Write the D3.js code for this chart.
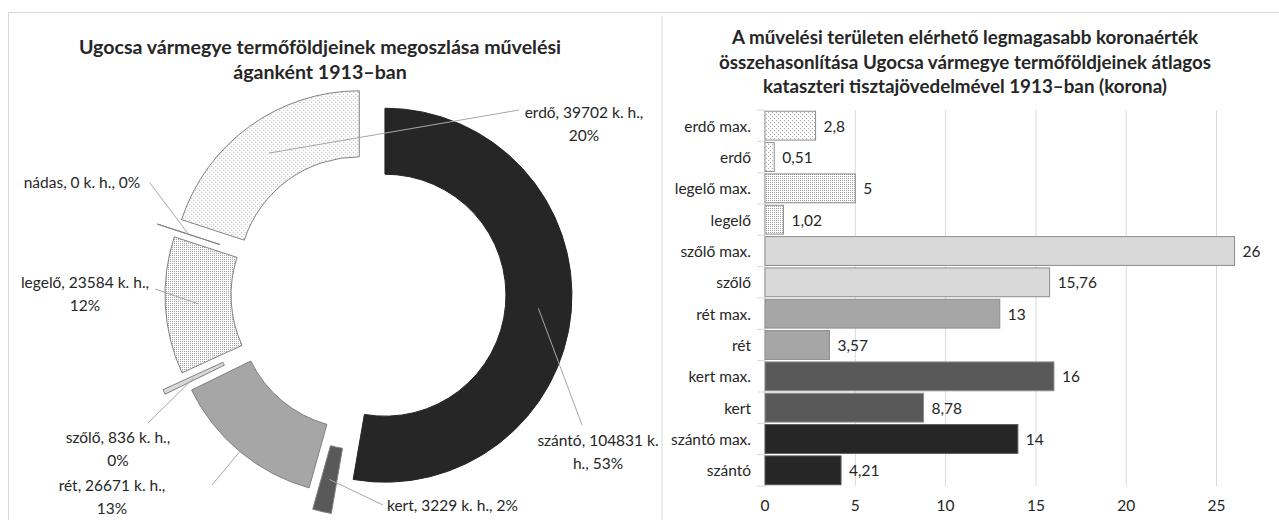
<!DOCTYPE html>
<html>
<head>
<meta charset="utf-8">
<script src="https://cdn.jsdelivr.net/npm/d3@7"></script>
<style>
  body { margin: 0; background: #fff; }
  svg text { font-family: Lato, "Open Sans", sans-serif; fill: #262626; }
</style>
</head>
<body>
<div id="chart"></div>
<script>
// Bal oldali fánk: művelési ágak (katasztrális hold)
const landNames = ["szántó", "kert", "rét", "szőlő", "legelő", "nádas", "erdő"];
const landArea = [104831, 3229, 26671, 836, 23584, 0, 39702];

// Jobb oldali sávok (korona)
const barLabels = ["erdő max.", "erdő", "legelő max.", "legelő", "szőlő max.", "szőlő",
                   "rét max.", "rét", "kert max.", "kert", "szántó max.", "szántó"];
const barValues = [2.8, 0.51, 5, 1.02, 26, 15.76, 13, 3.57, 16, 8.78, 14, 4.21];
const xTicks = [0, 5, 10, 15, 20, 25];

const W = 1279, H = 520;
const svg = d3.select("#chart").append("svg")
    .attr("width", W).attr("height", H);

// mintázatok (pontozott kitöltés)
const defs = svg.append("defs");
function dotPattern(id, size, dots, color) {
    const p = defs.append("pattern")
        .attr("id", id).attr("patternUnits", "userSpaceOnUse")
        .attr("width", size).attr("height", size);
    p.append("rect").attr("width", size).attr("height", size).attr("fill", "#fff");
    dots.forEach(([x, y]) => p.append("rect").attr("x", x).attr("y", y)
        .attr("width", 1).attr("height", 1).attr("fill", color));
}
dotPattern("dotsSparse", 4, [[0, 0], [2, 2]], "#a8a8a8");
dotPattern("dotsDense", 2, [[0, 0]], "#9a9a9a");

const fills = {
    "szántó": "#262626", "kert": "#595959", "rét": "#a6a6a6", "szőlő": "#d9d9d9",
    "legelő": "url(#dotsDense)", "nádas": "#ffffff", "erdő": "url(#dotsSparse)"
};

// keretek
svg.append("line").attr("x1", 8).attr("x2", W).attr("y1", 12.5).attr("y2", 12.5)
    .attr("stroke", "#d9d9d9");
svg.append("line").attr("x1", 8.5).attr("x2", 8.5).attr("y1", 12).attr("y2", H)
    .attr("stroke", "#d9d9d9");
svg.append("line").attr("x1", 662).attr("x2", 662).attr("y1", 16).attr("y2", H)
    .attr("stroke", "#d9d9d9");

// ---------- Fánk diagram ----------
const cx = 371, cy = 294, rIn = 121, rOut = 187;
const explode = [14, 36, 18, 42, 19, 38, 20];

svg.append("text").attr("x", 320).attr("y", 54)
    .attr("text-anchor", "middle").style("font-size", "19.6px").style("font-weight", "bold")
    .selectAll("tspan").data(["Ugocsa vármegye termőföldjeinek megoszlása művelési", "áganként 1913–ban"])
    .enter().append("tspan").attr("x", 320).attr("dy", (d, i) => i ? 25 : 0).text(d => d);

const total = d3.sum(landArea);
const pie = d3.pie().sort(null).value(d => d.value);
const arcs = pie(landNames.map((n, i) => ({ name: n, value: landArea[i], i })));
const arc = d3.arc().innerRadius(rIn).outerRadius(rOut);
const midArc = d3.arc().innerRadius((rIn + rOut) / 2).outerRadius((rIn + rOut) / 2);

function offset(d) {
    const a = (d.startAngle + d.endAngle) / 2;
    const e = explode[d.data.i];
    return [cx + e * Math.sin(a), cy - e * Math.cos(a)];
}

const donut = svg.append("g");
donut.selectAll("path").data(arcs).enter().append("path")
    .attr("transform", d => `translate(${offset(d)})`)
    .attr("d", arc)
    .attr("fill", d => fills[d.data.name])
    .attr("stroke", d => d.data.name === "szántó" ? "#262626" : "#808080")
    .attr("stroke-width", 1);

// címkék
const labelLayout = {
    "erdő":   { x: 584, y: 118, anchor: "middle", lx: 519, ly: 110, split: true },
    "nádas":  { x: 82, y: 188, anchor: "middle", lx: 150, ly: 183, split: false },
    "legelő": { x: 85, y: 288, anchor: "middle", lx: 155, ly: 289, split: true },
    "szőlő":  { x: 118, y: 443, anchor: "middle", lx: 148, ly: 423, split: true },
    "rét":    { x: 112, y: 491, anchor: "middle", lx: 212, ly: 485, split: true },
    "kert":   { x: 387, y: 511, anchor: "start", lx: 383, ly: 505, split: false },
    "szántó": { x: 598, y: 446, anchor: "middle", lx: 582, ly: 425, split: "szantó" }
};
const pctFmt = v => Math.round(v / total * 100) + "%";

arcs.forEach(d => {
    const L = labelLayout[d.data.name];
    const [ox, oy] = offset(d);
    const [mx, my] = midArc.centroid(d);
    svg.append("line")
        .attr("x1", ox + mx).attr("y1", oy + my)
        .attr("x2", L.lx).attr("y2", L.ly)
        .attr("stroke", "#a6a6a6").attr("stroke-width", 1);
    const full = `${d.data.name}, ${d.data.value} k. h., ${pctFmt(d.data.value)}`;
    let lines;
    if (L.split === "szantó") lines = [`${d.data.name}, ${d.data.value} k.`, `h., ${pctFmt(d.data.value)}`];
    else if (L.split) lines = [`${d.data.name}, ${d.data.value} k. h.,`, pctFmt(d.data.value)];
    else lines = [full];
    const t = svg.append("text").attr("text-anchor", L.anchor).style("font-size", "15.5px");
    lines.forEach((s, i) => t.append("tspan").attr("x", L.x).attr("y", L.y + i * 23).text(s));
});

// ---------- Sávdiagram ----------
svg.append("text").attr("x", 965).attr("y", 44)
    .attr("text-anchor", "middle").style("font-size", "18.8px").style("font-weight", "bold")
    .selectAll("tspan").data(["A művelési területen elérhető legmagasabb koronaérték",
        "összehasonlítása Ugocsa vármegye termőföldjeinek átlagos",
        "kataszteri tisztajövedelmével 1913–ban (korona)"])
    .enter().append("tspan").attr("x", 965).attr("dy", (d, i) => i ? 24.5 : 0).text(d => d);

const x = d3.scaleLinear().domain([0, 30]).range([765, 1306.8]);
const y = d3.scaleBand().domain(barLabels).range([110, 486]).paddingInner(0.08).paddingOuter(0.04);

const barFills = ["url(#dotsSparse)", "url(#dotsSparse)", "url(#dotsDense)", "url(#dotsDense)",
    "#d9d9d9", "#d9d9d9", "#a6a6a6", "#a6a6a6", "#595959", "#595959", "#262626", "#262626"];

// rácsvonalak
svg.append("g").selectAll("line").data(xTicks.slice(1)).enter().append("line")
    .attr("x1", d => x(d)).attr("x2", d => x(d)).attr("y1", 110).attr("y2", 486)
    .attr("stroke", "#d9d9d9");

// függőleges tengely + osztások
const yAxis = svg.append("g");
yAxis.append("line").attr("x1", 765).attr("x2", 765).attr("y1", 110).attr("y2", 486)
    .attr("stroke", "#d9d9d9");
yAxis.selectAll("line.tick").data(d3.range(barLabels.length + 1)).enter().append("line")
    .attr("class", "tick")
    .attr("x1", 757).attr("x2", 765)
    .attr("y1", i => 110 + i * (376 / barLabels.length)).attr("y2", i => 110 + i * (376 / barLabels.length))
    .attr("stroke", "#d9d9d9");

svg.append("g").selectAll("rect").data(barLabels).enter().append("rect")
    .attr("x", x(0)).attr("y", d => y(d))
    .attr("width", (d, i) => x(barValues[i]) - x(0))
    .attr("height", y.bandwidth())
    .attr("fill", (d, i) => barFills[i])
    .attr("stroke", (d, i) => i >= 10 ? "#595959" : "#8c8c8c").attr("stroke-width", 1);

svg.append("g").selectAll("text").data(barLabels).enter().append("text")
    .attr("x", 751).attr("y", d => y(d) + y.bandwidth() / 2 + 6)
    .attr("text-anchor", "end").style("font-size", "15.5px").text(d => d);

svg.append("g").selectAll("text").data(barLabels).enter().append("text")
    .attr("x", (d, i) => x(barValues[i]) + 8).attr("y", d => y(d) + y.bandwidth() / 2 + 6)
    .style("font-size", "15.5px").text((d, i) => String(barValues[i]).replace(".", ","));

svg.append("g").selectAll("text").data(xTicks).enter().append("text")
    .attr("x", d => x(d)).attr("y", 511).attr("text-anchor", "middle")
    .style("font-size", "15.5px").text(d => d);
</script>
</body>
</html>
